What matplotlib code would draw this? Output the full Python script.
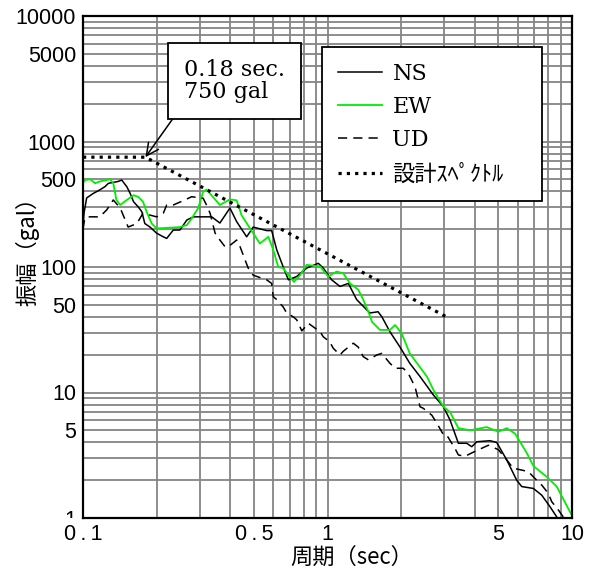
import numpy as np
import matplotlib
matplotlib.use("Agg")
import matplotlib.pyplot as plt
from matplotlib.transforms import Bbox, TransformedBbox

plt.rcParams['font.family'] = ['Liberation Sans', 'Noto Sans CJK JP']

# 応答スペクトル (周期 sec, 振幅 gal)
period_ns = [0.1, 0.101, 0.1035, 0.110, 0.117, 0.123, 0.127, 0.139, 0.144, 0.151,
             0.156, 0.161, 0.168, 0.174, 0.179, 0.188, 0.200, 0.213, 0.220, 0.234,
             0.249, 0.266, 0.283, 0.336, 0.363, 0.399, 0.425, 0.467, 0.497, 0.564,
             0.591, 0.620, 0.659, 0.692, 0.748, 0.822, 0.917, 0.961, 1.04, 1.125,
             1.217, 1.316, 1.49, 1.61, 1.67, 1.80, 1.98, 2.17, 2.39, 2.71,
             2.98, 3.17, 3.43, 3.71, 3.89, 4.08, 4.62, 4.92, 5.41, 5.94,
             6.23, 6.95, 7.52, 8.13, 8.66, 8.9]
acc_ns = [205, 270, 355, 385, 411, 437, 464, 480, 493, 437,
          385, 331, 302, 276, 222, 208, 186, 174, 169, 197,
          197, 237, 251, 251, 224, 295, 230, 174, 208, 195,
          195, 137, 100, 79, 84, 98, 107, 98, 79, 70,
          74, 55, 43, 44, 40, 30.5, 23, 17.1, 13.4, 9.55,
          7.7, 6.04, 3.94, 3.94, 3.7, 4.05, 4.13, 4.0, 2.9, 2.0,
          1.78, 1.72, 1.52, 1.23, 1.02, 0.93]

period_ew = [0.1, 0.1017, 0.107, 0.112, 0.117, 0.129, 0.133, 0.137, 0.142, 0.151,
             0.161, 0.168, 0.176, 0.182, 0.191, 0.200, 0.220, 0.249, 0.266, 0.278,
             0.296, 0.310, 0.320, 0.363, 0.399, 0.425, 0.445, 0.482, 0.529, 0.573,
             0.600, 0.629, 0.659, 0.692, 0.729, 0.772, 0.822, 0.932, 1.007, 1.09,
             1.16, 1.236, 1.336, 1.40, 1.49, 1.52, 1.64, 1.80, 1.89, 2.01,
             2.17, 2.55, 2.71, 2.98, 3.17, 3.43, 3.83, 4.48, 5.0, 5.41,
             5.85, 6.53, 6.95, 7.88, 8.66, 9.81, 10.0]
acc_ew = [465, 493, 500, 465, 480, 500, 465, 342, 312, 342,
          373, 363, 331, 276, 222, 203, 205, 208, 216, 243,
          295, 398, 414, 312, 346, 340, 259, 203, 154, 174,
          137, 100, 98, 86, 76, 86, 104, 101, 84, 92,
          89, 74, 66, 55, 41, 36.6, 31.5, 31.5, 34.5, 29.6,
          20.5, 13.4, 10.5, 7.7, 7.0, 5.2, 5.0, 5.3, 4.87, 5.2,
          4.7, 3.3, 2.6, 2.13, 1.78, 1.12, 1.05]

period_ud = [0.1, 0.1015, 0.1035, 0.117, 0.125, 0.133, 0.142, 0.153, 0.166, 0.176,
             0.200, 0.213, 0.220, 0.234, 0.261, 0.278, 0.310, 0.320, 0.331, 0.347,
             0.363, 0.381, 0.393, 0.425, 0.439, 0.460, 0.474, 0.497, 0.564, 0.591,
             0.600, 0.620, 0.659, 0.681, 0.725, 0.748, 0.785, 0.835, 0.932, 0.961,
             1.02, 1.056, 1.125, 1.16, 1.275, 1.336, 1.40, 1.47, 1.59, 1.667,
             1.80, 1.89, 2.04, 2.14, 2.28, 2.39, 2.46, 2.67, 2.80, 2.98,
             3.07, 3.32, 3.43, 3.65, 3.89, 4.27, 4.55, 5.0, 5.41, 5.75,
             6.23, 6.63, 7.17, 7.52, 8.0, 8.26, 8.79, 9.21, 9.4]
acc_ud = [200, 240, 251, 251, 285, 342, 295, 208, 222, 268,
          251, 268, 312, 312, 342, 363, 353, 312, 268, 186,
          164, 145, 145, 164, 145, 114, 98, 86, 79, 74,
          58, 55, 48, 43, 40, 38, 31, 35.6, 30.5, 27.8,
          25.4, 22.5, 19.9, 21.3, 24.7, 23, 19.3, 18.2, 19.9, 20.5,
          17.1, 15.6, 15.6, 14.2, 11.1, 7.7, 7.5, 6.6, 5.7, 4.6,
          4.6, 3.59, 3.18, 3.1, 3.3, 3.59, 3.8, 3.5, 2.9, 2.49,
          2.41, 2.34, 2.0, 1.83, 1.57, 1.35, 1.16, 1.02, 0.93]

# 設計スペクトル
period_design = [0.1, 0.18, 3.07]
acc_design = [750, 750, 40]

xtick_vals = [0.1, 0.5, 1, 5, 10]
xtick_text = ['0\u2009.\u20091', '0\u2009.\u20095', '1', '5', '10']
ytick_vals = [1, 5, 10, 50, 100, 500, 1000, 5000, 10000]


def tick_label(v, vals, texts):
    for tv, tt in zip(vals, texts):
        if np.isclose(v, tv):
            return tt
    return ''


W, H = 594, 578
fig = plt.figure(figsize=(W / 100, H / 100), dpi=100)
ax = fig.add_axes([83 / W, 60 / H, 489 / W, 502 / H])
ax.set_xscale('log')
ax.set_yscale('log')
ax.set_xlim(0.1, 10)
ax.set_ylim(1, 10000)

# グリッドは 1〜9 の全目盛に引く
xgrid = [m * 10.0 ** e for e in (-1, 0) for m in range(1, 10)] + [10]
ygrid = [m * 10.0 ** e for e in range(4) for m in range(1, 10)] + [10000]
ax.set_xticks(xgrid, labels=[tick_label(v, xtick_vals, xtick_text) for v in xgrid])
ax.set_yticks(ygrid, labels=[tick_label(v, ytick_vals, [str(t) for t in ytick_vals])
                             for v in ygrid])
ax.set_xticks([], minor=True)
ax.set_yticks([], minor=True)
ax.tick_params(axis='both', length=0, labelsize=15.5)
ax.tick_params(axis='x', pad=4.5)
ax.tick_params(axis='y', pad=5)
ax.grid(True, which='major', color='#858585', lw=1.3)
ax.set_axisbelow(True)
for s in ax.spines.values():
    s.set_linewidth(1.6)
    s.set_color('black')

# 縦軸の「1」は軸の下端で切る
clip = TransformedBbox(Bbox([[0, 60 / H], [1, 1]]), fig.transFigure)
lab1 = ax.yaxis.get_major_ticks()[0].label1
lab1.set_clip_box(clip)
lab1.set_clip_on(True)

ax.plot(period_ns, acc_ns, color='black', lw=1.1, label='NS')
ax.plot(period_ew, acc_ew, color='#00ee00', lw=1.3, label='EW')
ax.plot(period_ud, acc_ud, color='black', lw=1.1, dashes=(6, 4), label='UD')
ax.plot(period_design, acc_design, color='black', lw=2.3, linestyle=(0, (1, 1.6)),
        label='設計ｽﾍﾟｸﾄﾙ')

leg = ax.legend(loc='upper left', bbox_to_anchor=(322 / W, 1 - 195 / H, 220 / W, 148 / H),
                bbox_transform=fig.transFigure, mode='expand', borderaxespad=0,
                prop={'family': 'DejaVu Serif', 'size': 16}, fancybox=False,
                framealpha=1, edgecolor='black', handlelength=2.0, handletextpad=0.45,
                borderpad=0.72, labelspacing=0.5)
leg.get_frame().set_linewidth(1.3)
leg.get_texts()[3].set_fontfamily(['Noto Sans CJK JP'])
leg.get_texts()[3].set_fontsize(16)

ax.annotate('0.18 sec.\n750 gal', xy=(period_design[1], acc_design[1]),
            xytext=(184, H - 59), textcoords='figure pixels', ha='left', va='top',
            family='DejaVu Serif', fontsize=16, linespacing=1.0,
            bbox=dict(boxstyle='square,pad=0.72', fc='white', ec='black', lw=1.3),
            arrowprops=dict(arrowstyle='->', color='black', lw=1.1, relpos=(0, 0),
                            shrinkA=0, shrinkB=0, mutation_scale=22))

fig.text(27 / W, 1 - 246 / H, '振幅（gal）', rotation=90, ha='center', va='center',
         family=['Noto Sans CJK JP'], fontsize=16)
fig.text(352 / W, 1 - 557 / H, '周期（sec）', ha='center', va='center',
         family=['Noto Sans CJK JP'], fontsize=16)

fig.savefig('out.png', dpi=100, facecolor='white')
